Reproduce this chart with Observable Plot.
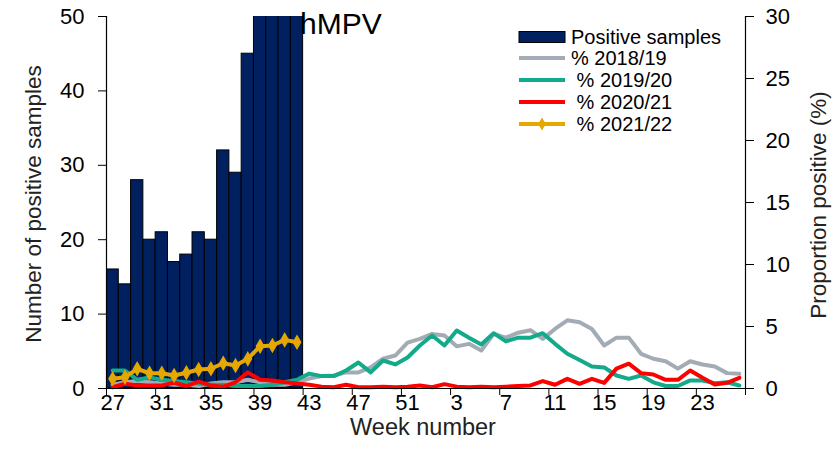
<!DOCTYPE html>
<html><head><meta charset="utf-8">
<script src="https://cdn.jsdelivr.net/npm/d3@7"></script>
<script src="https://cdn.jsdelivr.net/npm/@observablehq/plot@0.6"></script>
<style>body{margin:0;background:#fff;font-family:"Liberation Sans",Arial,sans-serif}</style>
</head><body><div id="chart"></div>
<script>
const weeks = [27,28,29,30,31,32,33,34,35,36,37,38,39,40,41,42,43,44,45,46,47,48,49,50,51,52,
  1,2,3,4,5,6,7,8,9,10,11,12,13,14,15,16,17,18,19,20,21,22,23,24,25,26];
const positiveSamples = [16,14,28,20,21,17,18,21,20,32,29,45,58,60,56,62]; // weeks 27–42 (last 4 exceed axis)
const pct2018_19 = [0.3,0.5,0.6,0.5,0.4,0.3,0.3,0.2,0.4,0.5,0.5,0.7,0.5,0.3,0.3,0.5,
  0.8,1.0,1.05,1.3,1.3,1.7,2.4,2.66,3.7,4.0,4.4,4.27,
  3.4,3.6,3.06,4.4,4.1,4.5,4.7,4.0,4.8,5.5,5.35,4.8,
  3.47,4.1,4.1,2.8,2.4,2.2,1.6,2.2,1.94,1.77,1.24,1.18];
const pct2019_20 = [1.45,1.45,0.7,0.9,0.7,0.6,0.5,0.4,0.3,0.3,0.2,0.2,0.2,0.3,0.5,0.7,
  1.2,1.0,1.0,1.45,2.1,1.3,2.26,1.94,2.5,3.47,4.27,3.47,
  4.68,4.1,3.55,4.46,3.8,4.1,4.1,4.46,3.6,2.8,2.3,1.77,
  1.7,1.05,0.78,1.05,0.5,0.2,0.2,0.65,0.65,0.43,0.5,0.24];
const pct2020_21 = [0.1,0.38,0.25,0.25,0.25,0.46,0.2,0.56,0.25,0.15,0.5,1.3,0.7,0.65,0.5,0.4,
  0.3,0.15,0.1,0.3,0.1,0.1,0.15,0.1,0.15,0.25,0.1,0.35,
  0.15,0.1,0.15,0.1,0.15,0.2,0.25,0.6,0.3,0.78,0.38,0.78,
  0.45,1.6,2.0,1.24,1.13,0.7,0.7,1.45,0.86,0.32,0.46,0.86];
const pct2021_22 = [0.78,0.91,1.59,1.23,1.23,1.05,1.27,1.53,1.59,2.04,1.85,2.39,3.41,3.47,3.92,3.73];
const leftTicks = [0,10,20,30,40,50];
const rightTicks = [0,5,10,15,20,25,30];
const seriesNames = ["Positive samples","% 2018/19"," % 2019/20"," % 2020/21"," % 2021/22"];

const colors = {bar:"#002060", s18:"#A3ABB4", s19:"#13A98B", s20:"#FF0000", s21:"#E6A700"};
const K = 50/30; // percent -> count-axis units
const toPts = arr => arr.map((v,i)=>({i, v}));
const bars = positiveSamples.map((v,i)=>({i, v}));

const chart = Plot.plot({
  width: 837, height: 469,
  marginLeft: 106, marginRight: 92, marginTop: 16, marginBottom: 81,
  style: {fontFamily: "Liberation Sans, Arial, sans-serif", fontSize: "22px", color: "#000", background: "#fff"},
  x: {type: "linear", domain: [0, weeks.length]},
  y: {domain: [0, 50]},
  marks: [
    Plot.rectY(bars, {x1: d=>d.i, x2: d=>d.i+1, y1: 0, y2: d=>d.v, fill: colors.bar, stroke: "#000", strokeWidth: 1, clip: true}),
    Plot.line(toPts(pct2018_19), {x: d=>d.i+0.5, y: d=>d.v*K, stroke: colors.s18, strokeWidth: 4}),
    Plot.line(toPts(pct2019_20), {x: d=>d.i+0.5, y: d=>d.v*K, stroke: colors.s19, strokeWidth: 4}),
    Plot.line(toPts(pct2020_21), {x: d=>d.i+0.5, y: d=>d.v*K, stroke: colors.s20, strokeWidth: 4}),
    Plot.line(toPts(pct2021_22), {x: d=>d.i+0.5, y: d=>d.v*K, stroke: colors.s21, strokeWidth: 4}),
    Plot.dot(toPts(pct2021_22), {x: d=>d.i+0.5, y: d=>d.v*K, symbol: "diamond", r: 3.8, fill: colors.s21, stroke: colors.s21}),
    Plot.ruleX([0, weeks.length], {y1: 0, y2: 50, stroke: "#000", strokeWidth: 1.2}),
    Plot.ruleY([0], {x1: 0, x2: weeks.length, stroke: "#000", strokeWidth: 1.2}),
    Plot.axisY({anchor: "left", ticks: leftTicks, tickSize: 8, tickPadding: 14, label: null, stroke: "#000"}),
    Plot.axisY({anchor: "right", ticks: rightTicks.map(t=>t*K), tickFormat: d=>String(Math.round(d/K)), tickSize: 8, tickPadding: 12, label: null, stroke: "#000"}),
    Plot.axisX({ticks: d3.range(0, weeks.length+1, 4), tickSize: 7, tickFormat: ()=>"", label: null, stroke: "#000"}),
    Plot.axisX({ticks: d3.range(0, weeks.length, 4).map(i=>i+0.5), tickSize: 0, tickPadding: 6, tickFormat: d=>String(weeks[Math.floor(d)]), label: null})
  ]
});

const svg = d3.select(chart);
svg.selectAll("text").attr("fill", "#000");
// titles
svg.append("text").attr("x", 33).attr("y", 204).attr("transform", "rotate(-90,33,204)")
  .attr("text-anchor", "middle").attr("dy", "0.35em").attr("font-size", 22.5).attr("fill", "#222")
  .text("Number of positive samples");
svg.append("text").attr("x", 818).attr("y", 205).attr("transform", "rotate(-90,818,205)")
  .attr("text-anchor", "middle").attr("dy", "0.35em").attr("font-size", 22.5).attr("fill", "#222")
  .text("Proportion positive (%)");
svg.append("text").attr("x", 423).attr("y", 435).attr("text-anchor", "middle")
  .attr("font-size", 23.5).attr("fill", "#222").text("Week number");
svg.append("text").attr("x", 300).attr("y", 34).attr("text-anchor", "start")
  .attr("font-size", 30).attr("fill", "#000").text("hMPV");

// legend
const lg = svg.append("g").attr("font-size", 20).attr("fill", "#000").attr("text-anchor", "start");
const rowY = [37, 58, 80, 102, 124];
const swatchColors = [colors.bar, colors.s18, colors.s19, colors.s20, colors.s21];
rowY.forEach((y, k) => {
  if (k === 0) {
    lg.append("rect").attr("x", 519).attr("y", y-5.5).attr("width", 46).attr("height", 11)
      .attr("fill", colors.bar).attr("stroke", "#000").attr("stroke-width", 1);
  } else {
    lg.append("line").attr("x1", 519).attr("x2", 565).attr("y1", y).attr("y2", y)
      .attr("stroke", swatchColors[k]).attr("stroke-width", 4);
    if (k === 4) lg.append("path").attr("d", d3.symbol(d3.symbolDiamond, 50)()).attr("transform", `translate(542,${y})`)
      .attr("fill", colors.s21);
  }
  lg.append("text").attr("x", 571).attr("y", y).attr("dy", "0.35em").style("white-space","pre").text(seriesNames[k]);
});

document.getElementById("chart").appendChild(chart);
</script>
</body></html>
